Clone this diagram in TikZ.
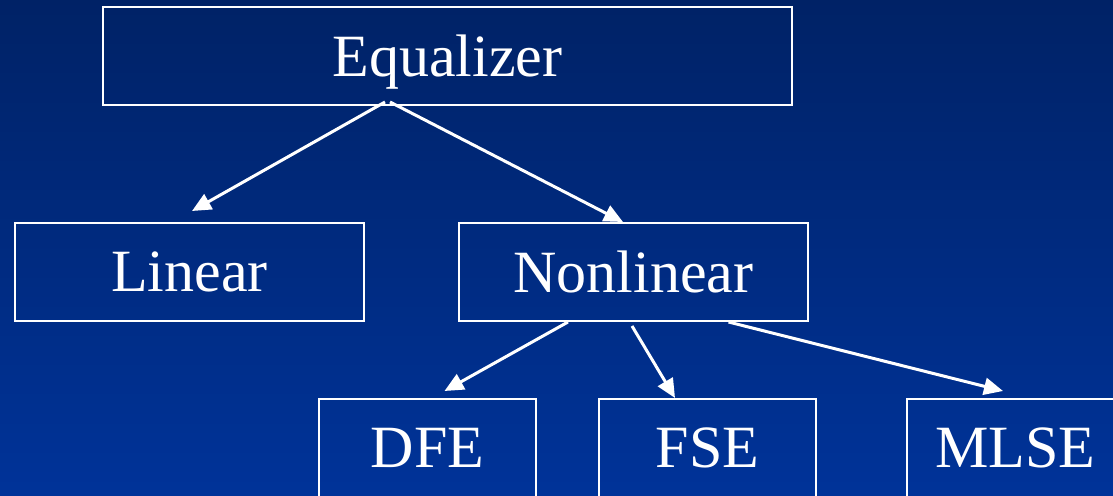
\documentclass[tikz,border=0pt]{standalone}
\usepackage{fontspec}
\setmainfont{Liberation Serif}
\usetikzlibrary{arrows.meta, positioning}
\definecolor{slidetop}{RGB}{0,34,102}
\definecolor{slidemid}{RGB}{0,47,140}
\definecolor{slidebot}{RGB}{0,51,153}

\begin{document}
\begin{tikzpicture}[
    x=0.5pt, y=-0.5pt,
    >={Triangle[length=9.5pt, width=8.5pt]},
    every node/.style={font=\fontsize{30}{36}\selectfont, text=white},
    box/.style ={draw=white, line width=1pt, minimum height=49pt, inner sep=0pt,
                 text depth=0pt},
    wide/.style={box, minimum width=344.5pt},
    mid/.style ={box, minimum width=174.5pt},
    leaf/.style={box, minimum width=108.5pt},
    flow/.style={->, white, line width=1.5pt},
]
\useasboundingbox (0,0) rectangle (1113,496);
\clip (0,0) rectangle (1113,496);
% --- slide background ---
\shade[top color=slidetop, middle color=slidemid, bottom color=slidebot]
    (0,0) rectangle (1113,496);

% --- tree of equalizer types ---
\node[wide] (eq)   at (447.5,56)  {Equalizer};
\node[mid]  (lin)  at (189.5,272) {Linear};
\node[mid]  (nl)   at (633.5,272) {Nonlinear};
\node[leaf] (dfe)  at (427.5,448) {DFE};
\node[leaf] (fse)  at (707.5,448) {FSE};
\node[leaf] (mlse) at (1015.5,448) {MLSE};

\draw[flow] ([xshift=-31.25pt,yshift=2pt]eq.south) -- ([xshift=1.25pt,yshift=5.5pt]lin.north);
\draw[flow] ([xshift=-28.75pt,yshift=2pt]eq.south) -- ([xshift=-5.25pt]nl.north);
\draw[flow] ([xshift=-32.75pt]nl.south) -- ([xshift=8.5pt,yshift=3.5pt]dfe.north);
\draw[flow] ([xshift=-0.75pt,yshift=-2pt]nl.south) -- ([xshift=-16.25pt]fse.north);
\draw[flow] ([xshift=47.5pt]nl.south) -- ([xshift=-6.25pt,yshift=3.5pt]mlse.north);
\end{tikzpicture}
\end{document}
